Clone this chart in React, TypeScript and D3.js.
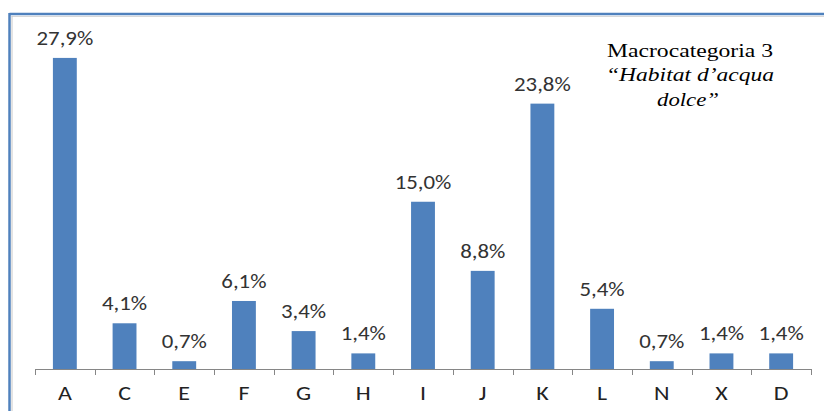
import React from "react";
import * as d3 from "d3";

const categories = ["A", "C", "E", "F", "G", "H", "I", "J", "K", "L", "N", "X", "D"];
const values = [27.9, 4.1, 0.7, 6.1, 3.4, 1.4, 15.0, 8.8, 23.8, 5.4, 0.7, 1.4, 1.4];
const valueLabels = ["27,9%", "4,1%", "0,7%", "6,1%", "3,4%", "1,4%", "15,0%", "8,8%", "23,8%", "5,4%", "0,7%", "1,4%", "1,4%"];
const titleLines = ["Macrocategoria 3", "\u201CHabitat d\u2019acqua", "dolce\u201D"];

const W = 824;
const H = 411;
const baseY = 369;
const left = 35;
const right = 811;

export default function App() {
  const x = d3.scaleBand<string>().domain(categories).range([left, right]).paddingInner(0.6).paddingOuter(0.3);
  const y = d3.scaleLinear().domain([0, 30]).range([baseY, baseY - 30 * 11.15]);
  const step = x.step();
  const tickXs = d3.range(categories.length + 1).map((i) => left + i * step);
  const sans = "Carlito, 'Open Sans', 'DejaVu Sans', sans-serif";
  const serif = "'Liberation Serif', 'Times New Roman', serif";

  return (
    <svg width={W} height={H} style={{ position: "absolute", left: 0, top: 0, background: "#fff" }}>
      {/* frame */}
      <line x1={9.5} x2={W} y1={14} y2={14} stroke="#4F81BD" strokeWidth={2.5} />
      <line x1={9.5} x2={9.5} y1={13} y2={H} stroke="#4F81BD" strokeWidth={2.5} />
      <line x1={11.5} x2={W} y1={16.5} y2={16.5} stroke="#d8d8d8" strokeWidth={1} />
      <line x1={12} x2={12} y1={16} y2={H} stroke="#c8c8c8" strokeWidth={1} />

      {/* bars */}
      {categories.map((c, i) => (
        <rect key={c} x={x(c)} y={y(values[i])} width={x.bandwidth()} height={baseY - y(values[i])} fill="#4F81BD" />
      ))}

      {/* value labels */}
      {categories.map((c, i) => (
        <text key={c + "v"}
          transform={`translate(${(x(c) as number) + x.bandwidth() / 2},${y(values[i]) - 13}) scale(1.17,1)`}
          textAnchor="middle" fontFamily={sans} fontSize={19.5} fill="#333">
          {valueLabels[i]}
        </text>
      ))}

      {/* axis */}
      <line x1={left} x2={right} y1={baseY + 0.5} y2={baseY + 0.5} stroke="#868686" strokeWidth={1} />
      {tickXs.map((tx, i) => (
        <line key={"t" + i} x1={Math.round(tx) + 0.5} x2={Math.round(tx) + 0.5} y1={baseY} y2={baseY + 6} stroke="#868686" strokeWidth={1} />
      ))}
      {categories.map((c) => (
        <text key={c + "l"}
          transform={`translate(${(x(c) as number) + x.bandwidth() / 2},400) scale(1.2,1)`}
          textAnchor="middle" fontFamily={sans} fontSize={20} fill="#222">
          {c}
        </text>
      ))}

      {/* title */}
      <text x={690} y={57} textAnchor="middle" fontFamily={serif} fontSize={19}
        fill="#000" textLength={166} lengthAdjust="spacingAndGlyphs">
        {titleLines[0]}
      </text>
      <text x={690} y={81} textAnchor="middle" fontFamily={serif} fontSize={19}
        fontStyle="italic" fill="#000" textLength={168} lengthAdjust="spacingAndGlyphs">
        {titleLines[1]}
      </text>
      <text x={688} y={106} textAnchor="middle" fontFamily={serif} fontSize={19}
        fontStyle="italic" fill="#000" textLength={62} lengthAdjust="spacingAndGlyphs">
        {titleLines[2]}
      </text>
    </svg>
  );
}
